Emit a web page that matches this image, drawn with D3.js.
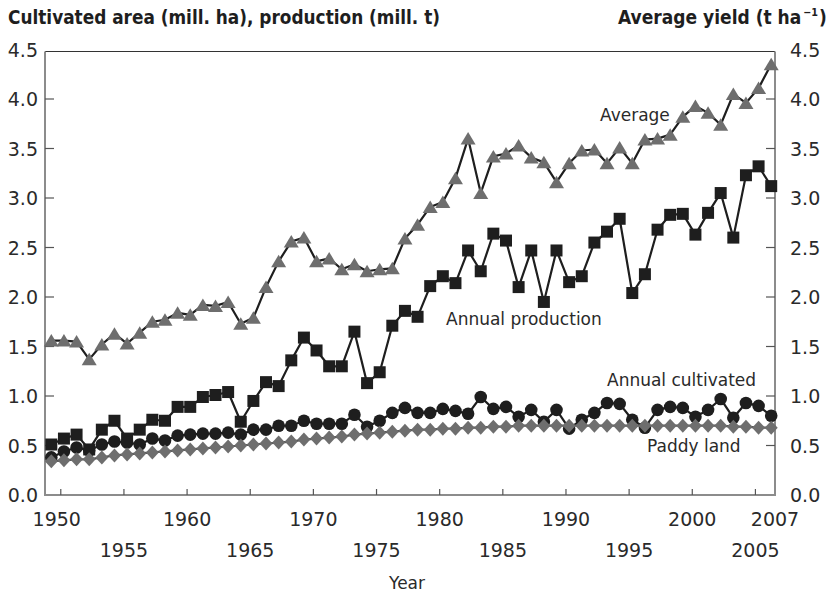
<!DOCTYPE html>
<html>
<head>
<meta charset="utf-8">
<script src="https://cdn.jsdelivr.net/npm/d3@7"></script>
<style>
  body { margin: 0; background: #fff; }
  text { font-family: "DejaVu Sans", sans-serif; fill: #2a2a2a; }
  .title { font-weight: bold; font-stretch: condensed; fill: #1e1e1e; }
</style>
</head>
<body>
<svg id="chart" width="829" height="594"></svg>
<script>
// ---------------- data ----------------
var years = [1950,1951,1952,1953,1954,1955,1956,1957,1958,1959,
             1960,1961,1962,1963,1964,1965,1966,1967,1968,1969,
             1970,1971,1972,1973,1974,1975,1976,1977,1978,1979,
             1980,1981,1982,1983,1984,1985,1986,1987,1988,1989,
             1990,1991,1992,1993,1994,1995,1996,1997,1998,1999,
             2000,2001,2002,2003,2004,2005,2006,2007];

// average yield (t/ha), right axis
var averageYield = [1.56,1.56,1.55,1.37,1.52,1.63,1.53,1.64,1.75,1.77,
                    1.84,1.82,1.92,1.91,1.95,1.73,1.79,2.10,2.36,2.56,
                    2.60,2.36,2.39,2.28,2.33,2.26,2.28,2.29,2.59,2.73,
                    2.91,2.96,3.20,3.60,3.05,3.42,3.45,3.53,3.41,3.36,
                    3.16,3.35,3.48,3.49,3.35,3.51,3.35,3.59,3.60,3.64,
                    3.82,3.93,3.86,3.74,4.05,3.96,4.11,4.35];

// annual production (mill. t)
var production = [0.51,0.57,0.61,0.46,0.66,0.75,0.57,0.66,0.76,0.75,
                  0.89,0.89,0.99,1.01,1.04,0.74,0.95,1.14,1.10,1.36,
                  1.59,1.46,1.30,1.30,1.65,1.13,1.24,1.71,1.86,1.80,
                  2.11,2.21,2.14,2.47,2.26,2.64,2.57,2.10,2.47,1.95,
                  2.47,2.15,2.21,2.55,2.66,2.79,2.04,2.23,2.68,2.83,
                  2.84,2.63,2.85,3.05,2.60,3.23,3.32,3.12];

// annual cultivated area (mill. ha)
var cultivated = [0.38,0.44,0.48,0.45,0.51,0.54,0.53,0.51,0.57,0.55,
                  0.60,0.61,0.62,0.62,0.63,0.61,0.66,0.66,0.70,0.70,
                  0.75,0.72,0.72,0.72,0.81,0.69,0.75,0.83,0.88,0.83,
                  0.83,0.87,0.85,0.82,0.99,0.87,0.89,0.79,0.86,0.74,
                  0.86,0.67,0.76,0.83,0.93,0.92,0.76,0.68,0.86,0.89,
                  0.88,0.79,0.86,0.97,0.78,0.93,0.90,0.80];

// paddy land (mill. ha)
var paddy = [0.34,0.35,0.36,0.36,0.38,0.40,0.41,0.42,0.43,0.44,
             0.45,0.46,0.47,0.48,0.49,0.50,0.51,0.52,0.53,0.54,
             0.56,0.57,0.58,0.59,0.61,0.62,0.63,0.64,0.65,0.66,
             0.66,0.67,0.67,0.68,0.68,0.69,0.69,0.70,0.70,0.70,
             0.70,0.70,0.70,0.70,0.70,0.70,0.70,0.70,0.70,0.70,
             0.70,0.70,0.70,0.70,0.69,0.69,0.68,0.68];

var yTicks = [0,0.5,1,1.5,2,2.5,3,3.5,4,4.5];
var xTicksRow1 = [1950,1960,1970,1980,1990,2000];
var xTicksRow2 = [1955,1965,1975,1985,1995,2005];
var lastYear = 2007;

// ---------------- layout ----------------
var svg = d3.select("#chart");
var LEFT = 45, RIGHT = 775, TOP = 49.5, BOTTOM = 495;
var TICK_SHIFT = 0.75; // ticks in the original sit a bit right of the data years

var x = d3.scaleLinear().domain([1949.5, 2007.3]).range([LEFT, RIGHT]);
var y = d3.scaleLinear().domain([0, 4.5]).range([BOTTOM, TOP]);

var AXIS_GREY = "#8c8c8c", MARK_GREY = "#6e6e6e", INK = "#1e1e1e";

// ---------------- frame ----------------
var gFrame = svg.append("g").attr("id", "frame");
gFrame.append("line").attr("x1", LEFT).attr("x2", RIGHT).attr("y1", TOP + 2).attr("y2", TOP + 2)
  .attr("stroke", "#333").attr("stroke-width", 1.2);
gFrame.append("line").attr("x1", LEFT).attr("x2", LEFT).attr("y1", TOP + 2).attr("y2", BOTTOM)
  .attr("stroke", AXIS_GREY).attr("stroke-width", 2);
gFrame.append("line").attr("x1", RIGHT).attr("x2", RIGHT).attr("y1", TOP + 2).attr("y2", BOTTOM)
  .attr("stroke", AXIS_GREY).attr("stroke-width", 2);
gFrame.append("line").attr("x1", LEFT - 1).attr("x2", RIGHT + 1).attr("y1", BOTTOM).attr("y2", BOTTOM)
  .attr("stroke", AXIS_GREY).attr("stroke-width", 1.8);

// y ticks (inside) and labels on both sides
yTicks.forEach(function (v) {
  if (v > 0 && v < 4.5) {
    gFrame.append("line").attr("x1", LEFT).attr("x2", LEFT + 9).attr("y1", y(v)).attr("y2", y(v))
      .attr("stroke", "#555").attr("stroke-width", 1.2);
    gFrame.append("line").attr("x1", RIGHT - 9).attr("x2", RIGHT).attr("y1", y(v)).attr("y2", y(v))
      .attr("stroke", "#555").attr("stroke-width", 1.2);
  }
  svg.append("text").attr("x", 38).attr("y", y(v) + 7).attr("text-anchor", "end")
    .style("font-size", "19px").text(v.toFixed(1));
  svg.append("text").attr("x", 790).attr("y", y(v) + 7).attr("text-anchor", "start")
    .style("font-size", "19px").text(v.toFixed(1));
});

// x ticks and two rows of year labels
xTicksRow1.concat(xTicksRow2).forEach(function (yr) {
  var tx = x(yr + TICK_SHIFT);
  gFrame.append("line").attr("x1", tx).attr("x2", tx).attr("y1", BOTTOM - 6).attr("y2", BOTTOM)
    .attr("stroke", "#555").attr("stroke-width", 1.2);
});
xTicksRow1.forEach(function (yr) {
  svg.append("text").attr("x", x(yr + TICK_SHIFT) - (yr == 1950 ? 4 : 0)).attr("y", 526)
    .attr("text-anchor", "middle").style("font-size", "19px").text(yr);
});
svg.append("text").attr("x", RIGHT).attr("y", 526).attr("text-anchor", "middle")
  .style("font-size", "19px").text(lastYear);
xTicksRow2.forEach(function (yr) {
  svg.append("text").attr("x", x(yr + TICK_SHIFT)).attr("y", 557)
    .attr("text-anchor", "middle").style("font-size", "19px").text(yr);
});
svg.append("text").attr("x", 407).attr("y", 589).attr("text-anchor", "middle")
  .style("font-size", "17px").text("Year");

// ---------------- titles ----------------
svg.append("text").attr("class", "title").attr("x", 8).attr("y", 24)
  .attr("textLength", 432).attr("lengthAdjust", "spacingAndGlyphs")
  .style("font-size", "19.5px").text("Cultivated area (mill. ha), production (mill. t)");

// right title as one text element, squeezed horizontally to the original width
var rTitle = svg.append("text").attr("class", "title").attr("x", 0).attr("y", 0)
  .style("font-size", "19.5px");
rTitle.append("tspan").text("Average yield (t ha");
rTitle.append("tspan").attr("dx", 2).attr("dy", -8).style("font-size", "11px").text("\u22121");
rTitle.append("tspan").attr("dx", 1).attr("dy", 8).text(")");
var rW = rTitle.node().getComputedTextLength();
rTitle.attr("transform", "translate(618,24) scale(" + (206 / rW) + ",1)");

// ---------------- series ----------------
var symTriangle = "M0,-6.5L7.5,6L-7.5,6Z";
var symSquare = "M-6,-6H6V6H-6Z";
var symDiamond = "M0,-7L6.5,0L0,7L-6.5,0Z";

function drawSeries(id, values, lineColor, marker, fill) {
  var g = svg.append("g").attr("id", id);
  var pts = years.map(function (yr, i) { return [x(yr), y(values[i])]; });
  g.append("path").attr("d", d3.line()(pts)).attr("fill", "none")
    .attr("stroke", lineColor).attr("stroke-width", 2.2).attr("stroke-linejoin", "round");
  var m = g.selectAll(".m").data(pts).enter();
  if (marker == "circle") {
    m.append("circle").attr("cx", function (d) { return d[0]; }).attr("cy", function (d) { return d[1]; })
      .attr("r", 6.3).attr("fill", fill);
  } else {
    m.append("path").attr("d", marker)
      .attr("transform", function (d) { return "translate(" + d[0] + "," + d[1] + ")"; })
      .attr("fill", fill);
  }
}

drawSeries("production", production, INK, symSquare, INK);
drawSeries("cultivated", cultivated, INK, "circle", INK);
drawSeries("paddy", paddy, "#555", symDiamond, MARK_GREY);
drawSeries("average", averageYield, INK, symTriangle, MARK_GREY);

// ---------------- series labels ----------------
var labels = [
  {t: "Average", x: 600, y: 121},
  {t: "Annual production", x: 446, y: 325},
  {t: "Annual cultivated", x: 607, y: 386},
  {t: "Paddy land", x: 647, y: 452}
];
labels.forEach(function (l) {
  svg.append("text").attr("x", l.x).attr("y", l.y).style("font-size", "17px").text(l.t);
});
</script>
</body>
</html>
